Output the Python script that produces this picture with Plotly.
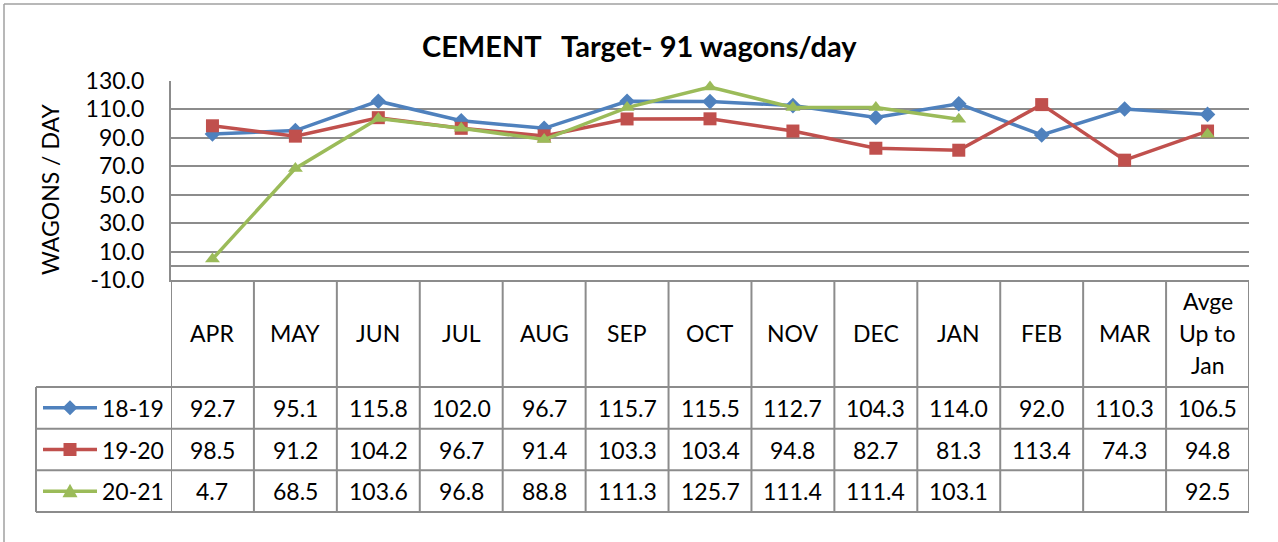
import plotly.graph_objects as go

# ---------------- data ----------------
categories = ["APR", "MAY", "JUN", "JUL", "AUG", "SEP", "OCT", "NOV", "DEC",
              "JAN", "FEB", "MAR", "Avge<br>Up to<br>Jan"]
series_names = ["18-19", "19-20", "20-21"]
s_1819 = [92.7, 95.1, 115.8, 102.0, 96.7, 115.7, 115.5, 112.7, 104.3, 114.0, 92.0, 110.3, 106.5]
s_1920 = [98.5, 91.2, 104.2, 96.7, 91.4, 103.3, 103.4, 94.8, 82.7, 81.3, 113.4, 74.3, 94.8]
s_2021 = [4.7, 68.5, 103.6, 96.8, 88.8, 111.3, 125.7, 111.4, 111.4, 103.1, None, None, 92.5]
y_ticks = [-10, 10, 30, 50, 70, 90, 110, 130]
title_text = "CEMENT   Target- 91 wagons/day"
y_title = "WAGONS / DAY"

series = [s_1819, s_1920, s_2021]

# ---------------- styling / layout ----------------
W, H = 1278, 542
L, R, T, B = 171, 29, 81, 262
PW, PH = W - L - R, H - T - B
FONT = "Lato"
GRID = "#8c8c8c"
colors = ["#4F81BD", "#C0504D", "#9BBB59"]
symbols = ["diamond", "square", "triangle-up"]
msizes = [12, 13, 13]


def py(p):
    return (H - B - p) / PH


def px(p):
    return (p - L) / PW


fig = go.Figure()
for name, vals, c, sym, ms in zip(series_names, series, colors, symbols, msizes):
    fig.add_trace(go.Scatter(
        x=categories, y=vals, name=name, mode="lines+markers",
        line=dict(color=c, width=3.5),
        marker=dict(symbol=sym, size=ms, color=c, line=dict(width=0)),
        connectgaps=False, showlegend=False, cliponaxis=False,
    ))

shapes = []
annotations = []

# table grid
row_lines = [387, 428.7, 470.3, 512]
for i in range(len(categories) + 1):
    shapes.append(dict(type="line", xref="x", yref="paper",
                       x0=i - 0.5, x1=i - 0.5, y0=0, y1=py(512),
                       line=dict(color=GRID, width=2)))
for r in row_lines:
    shapes.append(dict(type="line", xref="paper", yref="paper",
                       x0=px(36), x1=1, y0=py(r), y1=py(r),
                       line=dict(color=GRID, width=2)))
shapes.append(dict(type="line", xref="paper", yref="paper",
                   x0=px(36), x1=px(36), y0=py(387), y1=py(512),
                   line=dict(color=GRID, width=2)))

# outer chart border
shapes.append(dict(type="line", xref="paper", yref="paper",
                   x0=px(4), x1=px(W + 5), y0=py(4), y1=py(4),
                   line=dict(color="#a0a0a0", width=1.5)))
shapes.append(dict(type="line", xref="paper", yref="paper",
                   x0=px(4), x1=px(4), y0=py(4), y1=py(H + 5),
                   line=dict(color="#a0a0a0", width=1.5)))

TFS = 23
# header labels
for i, cat in enumerate(categories):
    parts = cat.split("<br>")
    n = len(parts)
    for k, part in enumerate(parts):
        cy = 333 + (k - (n - 1) / 2) * 32
        annotations.append(dict(x=i, xref="x", y=py(cy), yref="paper",
                                text=part, showarrow=False,
                                font=dict(family=FONT, size=TFS, color="black"),
                                xanchor="center", yanchor="middle"))

# value rows + legend keys
for r, (name, vals, c, sym) in enumerate(zip(series_names, series, colors, symbols)):
    cy = (row_lines[r] + row_lines[r + 1]) / 2
    for i, v in enumerate(vals):
        if v is None:
            continue
        annotations.append(dict(x=i, xref="x", y=py(cy), yref="paper",
                                text=f"{v:.1f}", showarrow=False,
                                font=dict(family=FONT, size=TFS, color="black"),
                                xanchor="center", yanchor="middle"))
    annotations.append(dict(x=px(100), xref="paper", y=py(cy), yref="paper",
                            text=name, showarrow=False,
                            font=dict(family=FONT, size=TFS, color="black"),
                            xanchor="left", yanchor="middle"))
    shapes.append(dict(type="line", xref="paper", yref="paper",
                       x0=px(43), x1=px(97), y0=py(cy), y1=py(cy),
                       line=dict(color=c, width=3.5)))
    mx = 70
    if sym == "diamond":
        d = 7.5
        pts = [(mx, cy - d), (mx + d, cy), (mx, cy + d), (mx - d, cy)]
    elif sym == "square":
        d = 6.5
        pts = [(mx - d, cy - d), (mx + d, cy - d), (mx + d, cy + d), (mx - d, cy + d)]
    else:
        d = 7.5
        pts = [(mx, cy - d), (mx + d, cy + 6), (mx - d, cy + 6)]
    path = "M " + " L ".join(f"{px(a):.5f},{py(b):.5f}" for a, b in pts) + " Z"
    shapes.append(dict(type="path", xref="paper", yref="paper", path=path,
                       fillcolor=c, line=dict(color=c, width=0)))

# title and y-axis title
annotations.append(dict(x=px(639), xref="paper", y=py(45), yref="paper",
                        text=f"<b>{title_text}</b>", showarrow=False,
                        font=dict(family=FONT, size=29, color="black"),
                        xanchor="center", yanchor="middle"))
annotations.append(dict(x=px(50), xref="paper", y=py(190), yref="paper",
                        text=y_title, showarrow=False, textangle=-90,
                        font=dict(family=FONT, size=23, color="black"),
                        xanchor="center", yanchor="middle"))

fig.update_layout(
    width=W, height=H,
    margin=dict(l=L, r=R, t=T, b=B, autoexpand=False),
    paper_bgcolor="white", plot_bgcolor="white",
    shapes=shapes, annotations=annotations,
    showlegend=False,
    xaxis=dict(type="category", range=[-0.5, len(categories) - 0.5],
               showticklabels=False, showgrid=False, zeroline=False,
               showline=True, linecolor=GRID, linewidth=2, ticks=""),
    yaxis=dict(range=[-10, 130], tickvals=y_ticks,
               ticktext=[f"{v:.1f}" for v in y_ticks],
               showgrid=True, gridcolor=GRID, gridwidth=2,
               zeroline=True, zerolinecolor=GRID, zerolinewidth=2,
               showline=True, linecolor=GRID, linewidth=2,
               ticks="", ticklabelstandoff=20,
               tickfont=dict(family=FONT, size=TFS, color="black")),
)

fig.write_html("out.html", config={"displayModeBar": False},
               post_script="document.body.style.margin='0';document.body.style.overflow='hidden';")
